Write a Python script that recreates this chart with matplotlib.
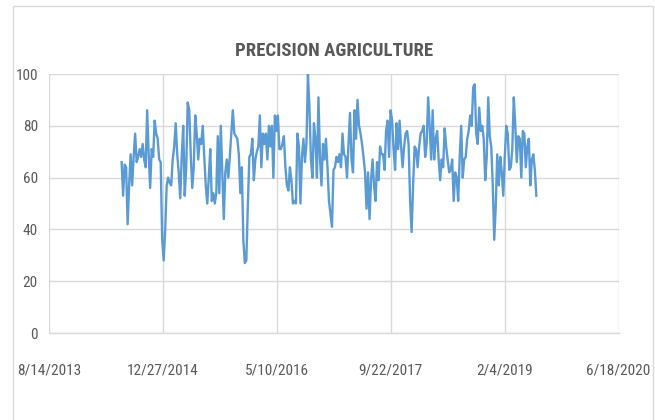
import matplotlib
matplotlib.use("Agg")
import matplotlib.pyplot as plt
from matplotlib import font_manager
from matplotlib.patches import Rectangle
import pandas as pd

title = "PRECISION AGRICULTURE"
start_date = "2014-06-29"
end_date = "2019-06-23"
values = [
    66, 53, 65, 64, 42, 57, 69, 57, 68, 77,
    66, 68, 71, 68, 73, 67, 64, 86, 69, 56,
    71, 68, 82, 77, 75, 67, 66, 36, 28, 40,
    57, 60, 58, 57, 67, 72, 81, 69, 62, 52,
    68, 80, 53, 64, 89, 86, 69, 56, 64, 84,
    77, 67, 75, 73, 80, 68, 57, 50, 60, 71,
    51, 54, 50, 54, 76, 54, 80, 62, 44, 62,
    67, 60, 68, 77, 86, 77, 76, 75, 69, 54,
    64, 36, 27, 28, 49, 68, 69, 75, 59, 67,
    70, 72, 84, 64, 77, 73, 77, 67, 80, 72,
    80, 60, 84, 78, 84, 71, 71, 73, 76, 64,
    57, 55, 64, 59, 50, 51, 50, 77, 72, 50,
    68, 75, 66, 73, 100, 87, 67, 60, 81, 75,
    60, 91, 68, 57, 73, 67, 75, 64, 51, 46,
    41, 63, 64, 68, 66, 69, 64, 77, 69, 68,
    60, 73, 85, 67, 62, 86, 75, 90, 80, 77,
    73, 68, 62, 48, 62, 44, 59, 67, 57, 51,
    66, 59, 72, 69, 69, 63, 78, 82, 68, 86,
    82, 71, 63, 81, 71, 82, 72, 64, 72, 77,
    78, 73, 51, 39, 57, 72, 71, 64, 72, 77,
    78, 80, 68, 73, 91, 80, 67, 86, 67, 75,
    78, 67, 59, 67, 64, 79, 72, 67, 62, 63,
    67, 51, 62, 60, 51, 68, 80, 60, 67, 68,
    75, 78, 84, 80, 95, 96, 77, 73, 87, 78,
    80, 75, 59, 68, 91, 76, 72, 57, 36, 49,
    69, 57, 68, 62, 53, 68, 80, 77, 63, 64,
    71, 91, 80, 66, 76, 75, 60, 78, 77, 64,
    72, 75, 57, 67, 69, 63, 53,
]
x_tick_dates = ["2013-08-14", "2014-12-27", "2016-05-10", "2017-09-22", "2019-02-04", "2020-06-18"]
x_tick_labels = ["8/14/2013", "12/27/2014", "5/10/2016", "9/22/2017", "2/4/2019", "6/18/2020"]
y_ticks = [0, 20, 40, 60, 80, 100]

dates = pd.date_range(start_date, end_date, periods=len(values))

available = {f.name for f in font_manager.fontManager.ttflist}
narrow = None
for cand in ["Liberation Sans Narrow", "Roboto Condensed", "Open Sans Condensed",
             "DejaVu Sans Condensed", "Noto Sans Condensed"]:
    if cand in available:
        narrow = cand
        break
if narrow is not None:
    fam = narrow
    tick_size, title_size = 11, 13.5
else:
    fam = "Liberation Sans"
    tick_size, title_size = 9.5, 11.5
plt.rcParams['font.family'] = [fam, 'DejaVu Sans']

fig = plt.figure(figsize=(6.55, 4.2), dpi=100)
ax = fig.add_axes([0.0747, 0.2071, 0.8697, 0.6167])

# chart border
fig.patches.append(Rectangle((13/655, -0.05), 640/655, 1 - 6/420 + 0.05,
                             transform=fig.transFigure, fill=False,
                             edgecolor="#d9d9d9", linewidth=1.0))

ax.plot(dates, values, color="#5b9bd5", linewidth=1.7, solid_joinstyle="round")

tick_dt = pd.to_datetime(x_tick_dates)
ax.set_xlim(tick_dt[0], tick_dt[-1])
ax.set_ylim(0, 100)
ax.set_xticks(tick_dt)
ax.set_xticklabels(x_tick_labels)
ax.set_yticks(y_ticks)
ax.set_yticklabels([str(v) for v in y_ticks])

ax.grid(True, color="#d9d9d9", linewidth=1.0)
ax.set_axisbelow(True)
for s in ["top", "right", "left"]:
    ax.spines[s].set_visible(False)
ax.spines["bottom"].set_color("#d9d9d9")
ax.spines["bottom"].set_linewidth(1.0)
ax.tick_params(axis="both", length=0, colors="#595959", labelsize=tick_size)
ax.tick_params(axis="x", pad=22)
ax.tick_params(axis="y", pad=8)

fig.text(0.5097, 1 - 51/420, title, ha="center", va="center",
         fontsize=title_size, color="#595959", fontweight="bold")

fig.savefig("out.png", dpi=100)
